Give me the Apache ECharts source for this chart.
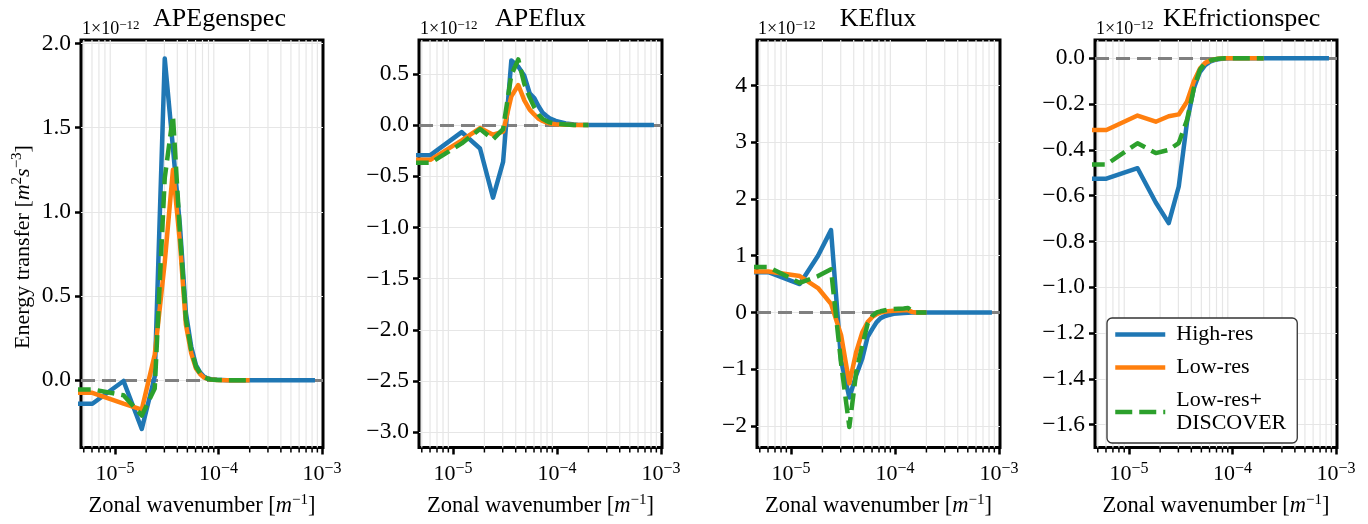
<!DOCTYPE html>
<html>
<head>
<meta charset="utf-8">
<script src="https://cdn.jsdelivr.net/npm/echarts@6/dist/echarts.min.js"></script>
<style>
  html, body { margin: 0; padding: 0; background: #fff; }
  #chart { width: 1368px; height: 524px; }
</style>
</head>
<body>
<div id="chart"></div>
<script>
/* ---------- data (energy transfer in units of 1e-12 m^2 s^-3) ---------- */

// zonal wavenumber [m^-1]; the first entry lies just left of the axis so lines reach the frame
var wavenumber = [4.0e-6, 6.05e-6, 1.21e-5, 1.815e-5, 2.42e-5, 3.025e-5, 3.63e-5, 4.235e-5, 4.84e-5,
  5.445e-5, 6.05e-5, 6.655e-5, 7.26e-5, 7.865e-5, 8.47e-5, 9.68e-5, 1.21e-4, 1.331e-4, 1.452e-4,
  1.573e-4, 1.997e-4, 8.53e-4];

var panelTitles = ["APEgenspec", "APEflux", "KEflux", "KEfrictionspec"];
var seriesNames = ["High-res", "Low-res", "Low-res+\nDISCOVER"];

var apeGenHigh = [-0.14, -0.14, -0.005, -0.29, 0.02, 1.91, 1.38, 0.92, 0.40, 0.20, 0.09, 0.045, 0.02, 0.01, 0.005, 0.002, 0, 0, 0, 0, 0, 0];
var apeGenLow  = [-0.075, -0.075, -0.14, -0.175, 0.15, 0.70, 1.25, 0.82, 0.33, 0.16, 0.07, 0.035, 0.015, 0.008, 0.004, 0.001, 0, 0, 0, 0, 0, null];
var apeGenDisc = [-0.055, -0.055, -0.09, -0.21, -0.05, 1.20, 1.57, 0.88, 0.36, 0.18, 0.08, 0.04, 0.018, 0.008, 0.004, 0.001, 0, 0, 0, 0, 0, null];

var apeFluxHigh = [-0.295, -0.295, -0.07, -0.23, -0.71, -0.36, 0.63, 0.57, 0.48, 0.31, 0.26, 0.18, 0.12, 0.09, 0.065, 0.04, 0.015, 0.01, 0.005, 0.003, 0, 0];
var apeFluxLow  = [-0.34, -0.34, -0.15, -0.03, -0.095, -0.065, 0.28, 0.39, 0.24, 0.15, 0.10, 0.06, 0.04, 0.025, 0.015, 0.008, 0.003, 0.002, 0.001, 0, 0, null];
var apeFluxDisc = [-0.37, -0.37, -0.18, -0.04, -0.14, -0.04, 0.49, 0.64, 0.40, 0.27, 0.17, 0.10, 0.06, 0.04, 0.025, 0.012, 0.004, 0.002, 0.001, 0, 0, null];

var keFluxHigh = [0.71, 0.71, 0.50, 1.0, 1.45, -0.85, -1.50, -1.10, -0.81, -0.43, -0.29, -0.17, -0.10, -0.07, -0.05, -0.025, -0.01, -0.005, -0.002, -0.001, 0, 0];
var keFluxLow  = [0.72, 0.72, 0.64, 0.43, 0.15, -0.40, -1.25, -0.69, -0.35, -0.17, -0.08, -0.03, 0.0, 0.01, 0.02, 0.03, 0.04, 0.04, 0.01, 0, 0, null];
var keFluxDisc = [0.80, 0.80, 0.52, 0.64, 0.76, -0.90, -2.02, -1.04, -0.58, -0.20, -0.06, 0.0, 0.02, 0.035, 0.05, 0.06, 0.07, 0.08, 0.02, 0, 0, null];

var keFricHigh = [-0.526, -0.526, -0.48, -0.63, -0.72, -0.56, -0.28, -0.13, -0.06, -0.03, -0.015, -0.008, -0.004, -0.002, -0.001, 0, 0, 0, 0, 0, 0, 0];
var keFricLow  = [-0.313, -0.313, -0.25, -0.277, -0.253, -0.245, -0.19, -0.10, -0.045, -0.02, -0.01, -0.005, -0.002, -0.001, 0, 0, 0, 0, 0, 0, 0, null];
var keFricDisc = [-0.464, -0.464, -0.371, -0.414, -0.40, -0.37, -0.27, -0.13, -0.05, -0.02, -0.01, -0.005, -0.002, -0.001, 0, 0, 0, 0, 0, 0, 0, null];

var panelData = [
  [apeGenHigh, apeGenLow, apeGenDisc],
  [apeFluxHigh, apeFluxLow, apeFluxDisc],
  [keFluxHigh, keFluxLow, keFluxDisc],
  [keFricHigh, keFricLow, keFricDisc]
];

// axis ranges and tick labels
var xRange = [4.7e-6, 1.02e-3];
var xTicks = [1e-5, 1e-4, 1e-3];
var xMinorTicks = [5e-6, 6e-6, 7e-6, 8e-6, 9e-6,
  2e-5, 3e-5, 4e-5, 5e-5, 6e-5, 7e-5, 8e-5, 9e-5,
  2e-4, 3e-4, 4e-4, 5e-4, 6e-4, 7e-4, 8e-4, 9e-4];
var yRanges = [[-0.40, 2.02], [-3.15, 0.83], [-2.38, 4.80], [-1.70, 0.08]];
var yTicks = [
  [0.0, 0.5, 1.0, 1.5, 2.0],
  [-3.0, -2.5, -2.0, -1.5, -1.0, -0.5, 0.0, 0.5],
  [-2, -1, 0, 1, 2, 3, 4],
  [-1.6, -1.4, -1.2, -1.0, -0.8, -0.6, -0.4, -0.2, 0.0]
];
var yDecimals = [1, 1, 0, 1];

/* ---------- layout ---------- */

var FONT = "'Liberation Serif', 'Times New Roman', serif";
var colors = ["#1f77b4", "#ff7f0e", "#2ca02c"];
var lineTypes = ["solid", "solid", [17, 7]];
var gridLefts = [81, 419, 757, 1095];
var gridWidths = [242, 243, 243, 242];
var gridTop = 40, gridHeight = 414;
var titleX = [219.5, 540.5, 878, 1241.7];

function fmtY(dec) {
  return function(v) {
    var s = Math.abs(v).toFixed(dec);
    return (v < -1e-9 ? "\u2212" : "") + s;
  };
}

function fmtPow(v) {
  var e = Math.round(Math.log(v) / Math.LN10);
  return "{b|10}{s|\u2212" + (-e) + "}";
}

function minorRenderer(yMin, yMax) {
  return function(params, api) {
    var x = api.value(0);
    var top = api.coord([x, yMax]);
    var bot = api.coord([x, yMin]);
    return {
      type: "group",
      children: [
        { type: "line", shape: { x1: top[0], y1: top[1], x2: bot[0], y2: bot[1] },
          style: { stroke: "#e6e6e6", lineWidth: 1.2 } },
        { type: "line", shape: { x1: bot[0], y1: bot[1] + 1.5, x2: bot[0], y2: bot[1] + 5 },
          style: { stroke: "#000", lineWidth: 1.5 } }
      ]
    };
  };
}

var grids = [], xAxes = [], yAxes = [], series = [], graphics = [];

for (var i = 0; i < 4; i++) {
  grids.push({
    left: gridLefts[i], top: gridTop, width: gridWidths[i], height: gridHeight,
    show: true, borderColor: "#000", borderWidth: 3, backgroundColor: "transparent"
  });

  xAxes.push({
    gridIndex: i, type: "log", logBase: 10, min: xRange[0], max: xRange[1],
    axisLine: { show: false, onZero: false },
    axisTick: { show: true, length: 7, customValues: xTicks, lineStyle: { color: "#000", width: 2.5 } },
    axisLabel: {
      customValues: xTicks, formatter: fmtPow, margin: 13.5, color: "#000",
      rich: {
        b: { fontFamily: FONT, fontSize: 22, color: "#000", lineHeight: 26 },
        s: { fontFamily: FONT, fontSize: 16, color: "#000", lineHeight: 8, verticalAlign: "top" }
      }
    },
    splitLine: { show: false },
    name: "Zonal wavenumber [{i|m}{s|\u22121}]",
    nameLocation: "middle", nameGap: 45.5,
    nameTextStyle: {
      fontFamily: FONT, fontSize: 22.5, color: "#000", lineHeight: 26,
      rich: {
        i: { fontFamily: FONT, fontSize: 22.5, fontStyle: "italic", color: "#000", lineHeight: 26 },
        s: { fontFamily: FONT, fontSize: 15, color: "#000", lineHeight: 16, verticalAlign: "top" }
      }
    }
  });

  yAxes.push({
    gridIndex: i, type: "value", min: yRanges[i][0], max: yRanges[i][1],
    axisLine: { show: false },
    axisTick: { show: true, length: 6, customValues: yTicks[i], lineStyle: { color: "#000", width: 2.5 } },
    axisLabel: {
      customValues: yTicks[i], formatter: fmtY(yDecimals[i]), margin: 10,
      fontFamily: FONT, fontSize: 23.5, color: "#000"
    },
    splitLine: { show: false }
  });

  // grid lines, minor ticks and the dashed zero line (kept below the data lines)
  var gridLineStyle = { color: "#e6e6e6", width: 1.2, type: "solid" };
  var markData = [];
  yTicks[i].forEach(function(v) { markData.push({ yAxis: v, lineStyle: gridLineStyle }); });
  [1e-5, 1e-4].forEach(function(v) { markData.push({ xAxis: v, lineStyle: gridLineStyle }); });
  markData.push({ yAxis: 0, lineStyle: { color: "#808080", width: 3.2, type: [14, 7] } });

  series.push({
    type: "custom", xAxisIndex: i, yAxisIndex: i, clip: false, silent: true, z: 1,
    animation: false,
    renderItem: minorRenderer(yRanges[i][0], yRanges[i][1]),
    encode: { x: 0, y: 1 },
    data: xMinorTicks.map(function(v) { return [v, 0]; }),
    markLine: {
      silent: true, z: 2, symbol: ["none", "none"], animation: false,
      label: { show: false }, data: markData
    }
  });

  panelData[i].forEach(function(arr, j) {
    series.push({
      name: seriesNames[j], type: "line", xAxisIndex: i, yAxisIndex: i,
      data: wavenumber.map(function(k, idx) { return [k, arr[idx]]; }),
      symbol: "none", showSymbol: false, clip: true, z: 3 + j, animation: false,
      lineStyle: { color: colors[j], width: 4.5, type: lineTypes[j], join: "round" },
      itemStyle: { color: colors[j] }
    });
  });

  // offset text and title
  graphics.push({
    type: "text", x: gridLefts[i] + 1, y: 29, silent: true,
    style: {
      text: "{a|1\u00d710}{b|\u221212}", textAlign: "left", textVerticalAlign: "middle",
      rich: {
        a: { fontFamily: FONT, fontSize: 18, fill: "#000", lineHeight: 20 },
        b: { fontFamily: FONT, fontSize: 13, fill: "#000", lineHeight: 8, verticalAlign: "top" }
      }
    }
  });
  graphics.push({
    type: "text", x: titleX[i], y: 19, silent: true,
    style: {
      text: panelTitles[i], textAlign: "center", textVerticalAlign: "middle",
      font: "26px " + FONT, fill: "#000"
    }
  });
}

// y-axis label of the first panel
graphics.push({
  type: "text", x: 23, y: gridTop + gridHeight / 2, rotation: Math.PI / 2, silent: true,
  style: {
    text: "Energy transfer [{i|m}{s|2}{i|s}{s|\u22123}]",
    textAlign: "center", textVerticalAlign: "middle",
    font: "22px " + FONT, fill: "#000", lineHeight: 26,
    rich: {
      i: { fontFamily: FONT, fontSize: 22, fontStyle: "italic", fill: "#000", lineHeight: 26 },
      s: { fontFamily: FONT, fontSize: 15, fill: "#000", lineHeight: 14, verticalAlign: "top" }
    }
  }
});

var chart = echarts.init(document.getElementById("chart"));
chart.setOption({
  backgroundColor: "#fff",
  animation: false,
  grid: grids,
  xAxis: xAxes,
  yAxis: yAxes,
  series: series,
  graphic: graphics,
  legend: {
    data: seriesNames.map(function(name, j) {
      return { name: name, itemStyle: { opacity: 0, borderWidth: 0 },
        lineStyle: { color: colors[j], width: 4.5, type: lineTypes[j], opacity: 1 } };
    }),
    selectedMode: false,
    z: 10,
    orient: "vertical",
    left: 1107, top: 318,
    padding: [5, 11, 8, 6],
    itemWidth: 50, itemHeight: 14, itemGap: 10,
    backgroundColor: "#fff",
    borderColor: "#333", borderWidth: 1.3, borderRadius: 5,
    textStyle: { fontFamily: FONT, fontSize: 22, color: "#000", lineHeight: 23, padding: [0, 0, 0, 6] }
  }
});
</script>
</body>
</html>
